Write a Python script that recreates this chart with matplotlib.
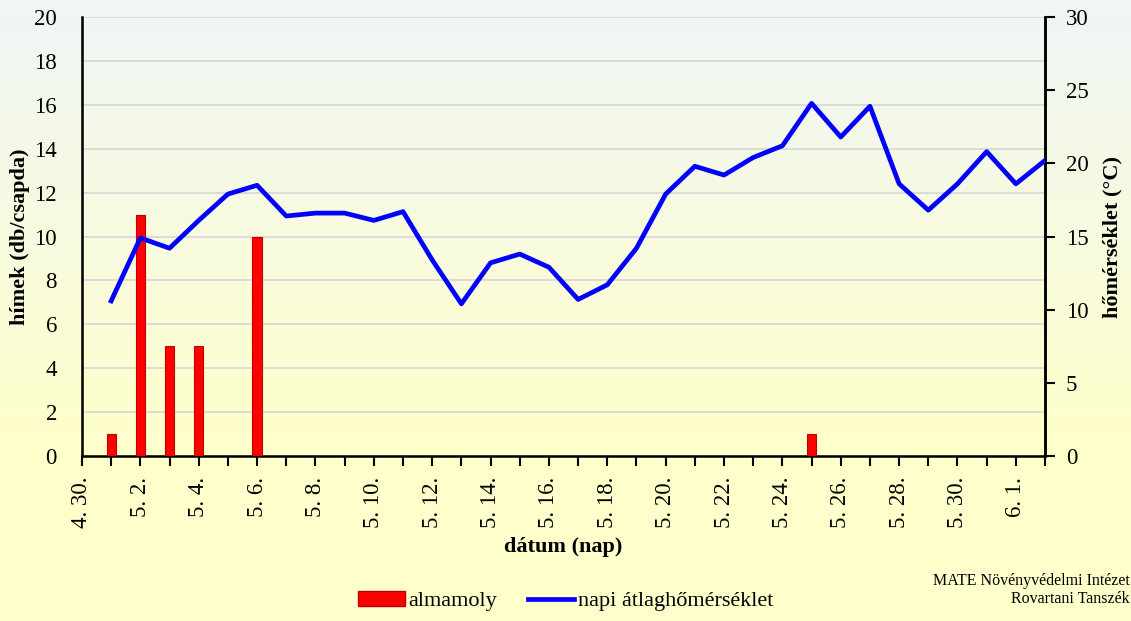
import numpy as np
import matplotlib
matplotlib.use("Agg")
import matplotlib.pyplot as plt
from matplotlib.colors import LinearSegmentedColormap
from matplotlib.patches import Patch
from matplotlib.lines import Line2D

plt.rcParams['font.family'] = ['Liberation Serif', 'DejaVu Serif']

# dates 4.30. .. 6.2. (one per day)
dates = ['4. 30.'] + ['5. %d.' % d for d in range(1, 32)] + ['6. 1.', '6. 2.']

# almamoly catches (db/csapda), by day
moth_days = ['5. 1.', '5. 2.', '5. 3.', '5. 4.', '5. 6.', '5. 25.']
moth_vals = [1, 11, 5, 5, 10, 1]

# daily mean temperature (°C), 5.1. .. 6.2.
temp = [10.6, 14.9, 14.2, 16.1, 17.9, 18.5, 16.4, 16.6, 16.6, 16.1, 16.7,
        13.4, 10.4, 13.2, 13.8, 12.9, 10.7, 11.7, 14.2, 17.9, 19.8, 19.2,
        20.4, 21.2, 24.1, 21.8, 23.9, 18.6, 16.8, 18.6, 20.8, 18.6, 20.2]

fig = plt.figure(figsize=(11.31, 6.21), dpi=100)

# background gradient
bg = fig.add_axes([0, 0, 1, 1], zorder=-10)
cmap = LinearSegmentedColormap.from_list('bg', [(0, '#FFFFCC'), (0.3, '#FFFFCC'), (1, '#EFF6F5')])
grad = np.linspace(0, 1, 256).reshape(-1, 1)
bg.imshow(grad, aspect='auto', cmap=cmap, origin='lower', extent=[0, 1, 0, 1])
bg.axis('off')

ax = fig.add_axes([0.0725, 0.2657, 0.8515, 0.7069])
ax.set_facecolor('none')
x = np.arange(len(dates))
bx = [dates.index(d) for d in moth_days]
ax.bar(bx, moth_vals, width=0.32, color='#FF0000', edgecolor='#C00000', linewidth=0.8, zorder=3)
ax.set_ylim(0, 20)
ax.set_yticks(range(0, 21, 2))
ax.set_xlim(0, len(dates) - 1)
ax.set_xticks(x[::2])
ax.set_xticklabels(dates[::2], rotation=90, fontsize=16.5)
ax.set_xticks(x, minor=True)
ax.tick_params(axis='x', which='both', direction='out', length=7, width=1.5, pad=8)
ax.tick_params(axis='y', length=0, pad=18, labelsize=16.5)
ax.yaxis.grid(True, color='#D9D9D9', linewidth=1.3)
ax.set_axisbelow(True)
ax.spines['top'].set_visible(False)
for s in ['left', 'bottom', 'right']:
    ax.spines[s].set_linewidth(1.8)
ax.set_ylabel('hímek (db/csapda)', fontsize=16, fontweight='bold', labelpad=3)
ax.set_xlabel('dátum (nap)', fontsize=16, fontweight='bold', labelpad=6)

ax2 = ax.twinx()
ax2.plot(x[1:], temp, color='#0000FF', linewidth=3.4, zorder=4)
ax2.set_ylim(0, 30)
ax2.set_yticks(range(0, 31, 5))
ax2.tick_params(axis='y', direction='out', length=7, width=1.5, pad=8, labelsize=16.5)
ax2.spines['top'].set_visible(False)
ax2.spines['right'].set_linewidth(1.8)
ax2.set_ylabel('hőmérséklet (°C)', fontsize=16, fontweight='bold', labelpad=10)

handles = [Patch(facecolor='#FF0000', edgecolor='#C00000'),
           Line2D([0], [0], color='#0000FF', linewidth=3.4)]
fig.legend(handles, ['almamoly', 'napi átlaghőmérséklet'], loc='center',
           bbox_to_anchor=(0.5, 0.032), ncol=2, frameon=False, fontsize=16,
           handlelength=2.1, handletextpad=0.15, columnspacing=1.4)

fig.text(0.999, 0.022, 'MATE Növényvédelmi Intézet\nRovartani Tanszék', ha='right',
         va='bottom', multialignment='right', fontsize=11.5)

fig.savefig('out.png', dpi=100)
